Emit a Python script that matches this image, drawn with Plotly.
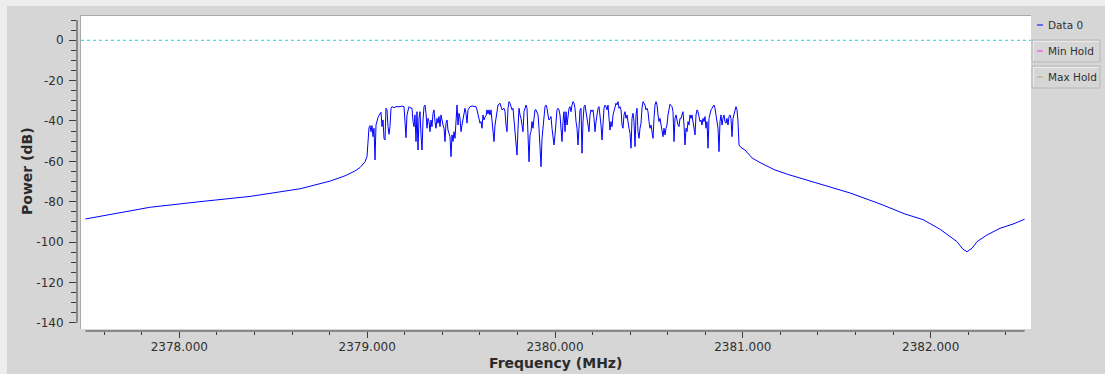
import plotly.graph_objects as go

# ---------------- data ----------------
left_skirt_freq = [2377.500, 2377.580, 2377.684, 2377.843, 2378.110, 2378.297, 2378.377,
                   2378.643, 2378.803, 2378.882, 2378.935, 2378.962, 2378.989]
left_skirt_db = [-88.6, -87.2, -85.4, -82.8, -80.0, -78.3, -77.4,
                 -73.6, -69.8, -67.2, -64.8, -63.1, -60.2]

passband_freq = [
    2378.9992, 2379.0045, 2379.0098, 2379.0152, 2379.0205, 2379.0258, 2379.0311, 2379.0365, 2379.0418, 2379.0471,
    2379.0524, 2379.0578, 2379.0631, 2379.0684, 2379.0737, 2379.0790, 2379.0844, 2379.0897, 2379.0950, 2379.1003,
    2379.1057, 2379.1110, 2379.1163, 2379.1216, 2379.1270, 2379.1323, 2379.1429, 2379.1536, 2379.1642, 2379.1749,
    2379.1855, 2379.1962, 2379.2015, 2379.2068, 2379.2121, 2379.2175, 2379.2228, 2379.2281, 2379.2388, 2379.2441,
    2379.2494, 2379.2547, 2379.2601, 2379.2654, 2379.2707, 2379.2760, 2379.2814, 2379.2867, 2379.2920, 2379.2973,
    2379.3027, 2379.3080, 2379.3133, 2379.3186, 2379.3240, 2379.3293, 2379.3346, 2379.3399, 2379.3452, 2379.3506,
    2379.3559, 2379.3612, 2379.3665, 2379.3719, 2379.3772, 2379.3825, 2379.3878, 2379.3932, 2379.3985, 2379.4038,
    2379.4091, 2379.4145, 2379.4198, 2379.4251, 2379.4304, 2379.4358, 2379.4411, 2379.4464, 2379.4517, 2379.4571,
    2379.4624, 2379.4677, 2379.4730, 2379.4784, 2379.4837, 2379.4890, 2379.4943, 2379.4996, 2379.5050, 2379.5103,
    2379.5156, 2379.5209, 2379.5263, 2379.5316, 2379.5369, 2379.5475, 2379.5582, 2379.5689, 2379.5795, 2379.5848,
    2379.5901, 2379.5955, 2379.6008, 2379.6061, 2379.6114, 2379.6168, 2379.6221, 2379.6274, 2379.6327, 2379.6381,
    2379.6434, 2379.6487, 2379.6540, 2379.6594, 2379.6647, 2379.6700, 2379.6753, 2379.6807, 2379.6860, 2379.6913,
    2379.6966, 2379.7073, 2379.7126, 2379.7179, 2379.7286, 2379.7339, 2379.7392, 2379.7445, 2379.7499, 2379.7552,
    2379.7605, 2379.7712, 2379.7765, 2379.7818, 2379.7871, 2379.7925, 2379.7978, 2379.8031, 2379.8084, 2379.8137,
    2379.8191, 2379.8244, 2379.8297, 2379.8350, 2379.8404, 2379.8457, 2379.8510, 2379.8563, 2379.8617, 2379.8670,
    2379.8723, 2379.8776, 2379.8830, 2379.8883, 2379.8936, 2379.8989, 2379.9043, 2379.9096, 2379.9149, 2379.9202,
    2379.9256, 2379.9309, 2379.9362, 2379.9415, 2379.9468, 2379.9522, 2379.9575, 2379.9628, 2379.9681, 2379.9734,
    2379.9788, 2379.9841, 2379.9894, 2379.9947, 2380.0001, 2380.0054, 2380.0107, 2380.0160, 2380.0214, 2380.0267,
    2380.0320, 2380.0373, 2380.0427, 2380.0480, 2380.0533, 2380.0586, 2380.0640, 2380.0693, 2380.0746, 2380.0799,
    2380.0853, 2380.0906, 2380.0959, 2380.1012, 2380.1066, 2380.1119, 2380.1172, 2380.1225, 2380.1278, 2380.1332,
    2380.1385, 2380.1438, 2380.1491, 2380.1545, 2380.1598, 2380.1651, 2380.1704, 2380.1758, 2380.1811, 2380.1864,
    2380.1917, 2380.1971, 2380.2024, 2380.2077, 2380.2130, 2380.2184, 2380.2237, 2380.2290, 2380.2343, 2380.2396,
    2380.2450, 2380.2503, 2380.2556, 2380.2609, 2380.2663, 2380.2716, 2380.2769, 2380.2822, 2380.2876, 2380.2929,
    2380.2982, 2380.3035, 2380.3089, 2380.3142, 2380.3195, 2380.3248, 2380.3302, 2380.3355, 2380.3408, 2380.3461,
    2380.3515, 2380.3568, 2380.3621, 2380.3674, 2380.3728, 2380.3781, 2380.3834, 2380.3887, 2380.3940, 2380.3993,
    2380.4047, 2380.4100, 2380.4153, 2380.4206, 2380.4260, 2380.4313, 2380.4366, 2380.4419, 2380.4473, 2380.4526,
    2380.4579, 2380.4632, 2380.4686, 2380.4792, 2380.4845, 2380.4899, 2380.4952, 2380.5005, 2380.5058, 2380.5111,
    2380.5165, 2380.5218, 2380.5271, 2380.5324, 2380.5378, 2380.5431, 2380.5484, 2380.5537, 2380.5590, 2380.5644,
    2380.5697, 2380.5750, 2380.5803, 2380.5857, 2380.5910, 2380.5963, 2380.6016, 2380.6070, 2380.6123, 2380.6229,
    2380.6282, 2380.6336, 2380.6389, 2380.6442, 2380.6495, 2380.6549, 2380.6602, 2380.6655, 2380.6708, 2380.6762,
    2380.6815, 2380.6868, 2380.6921, 2380.6975, 2380.7028, 2380.7081, 2380.7134, 2380.7187, 2380.7241, 2380.7294,
    2380.7347, 2380.7400, 2380.7454, 2380.7507, 2380.7560, 2380.7613, 2380.7667, 2380.7720, 2380.7773, 2380.7826,
    2380.7879, 2380.7933, 2380.7986, 2380.8039, 2380.8092, 2380.8146, 2380.8199, 2380.8252, 2380.8305, 2380.8359,
    2380.8412, 2380.8465, 2380.8518, 2380.8572, 2380.8625, 2380.8678, 2380.8731, 2380.8785, 2380.8838, 2380.8891,
    2380.8944, 2380.8998, 2380.9051, 2380.9104, 2380.9157, 2380.9210, 2380.9264, 2380.9317, 2380.9370, 2380.9423,
    2380.9477, 2380.9530, 2380.9583, 2380.9636, 2380.9690, 2380.9743, 2380.9796, 2380.9902, 2381.0115, 2381.0328,
]
passband_db = [
    -57.7, -48.6, -43.3, -42.3, -45.3, -42.3, -47.8, -43.6, -59.3, -42.0,
    -39.5, -38.3, -37.3, -36.2, -35.7, -42.8, -39.5, -48.6, -49.4, -33.7,
    -34.5, -42.8, -46.6, -42.8, -33.7, -32.9, -33.4, -32.9, -33.0, -32.9,
    -32.6, -32.9, -40.3, -48.3, -37.0, -33.7, -32.9, -33.4, -33.7, -40.3,
    -42.8, -37.0, -50.2, -35.4, -54.4, -38.7, -35.4, -46.9, -54.4, -39.5,
    -32.9, -32.1, -36.2, -43.6, -38.7, -40.3, -45.3, -39.5, -42.8, -36.2,
    -34.5, -40.3, -43.6, -38.7, -41.1, -37.8, -42.8, -37.0, -40.3, -42.0,
    -43.6, -50.2, -41.1, -39.5, -44.5, -46.1, -47.8, -57.7, -46.9, -50.2,
    -45.3, -48.6, -37.0, -32.1, -42.0, -36.2, -38.7, -45.3, -42.0, -39.5,
    -37.8, -33.7, -36.2, -41.1, -34.5, -32.9, -32.6, -32.6, -32.9, -34.5,
    -37.0, -39.5, -41.1, -40.3, -43.6, -37.0, -39.5, -38.0, -37.5, -34.5,
    -36.5, -34.5, -37.0, -34.5, -39.5, -42.8, -50.2, -42.0, -37.8, -35.4,
    -32.1, -31.2, -32.9, -34.5, -33.7, -35.4, -42.0, -45.3, -33.7, -30.4,
    -31.2, -34.5, -33.7, -38.7, -45.3, -50.2, -56.9, -43.6, -33.7, -37.0,
    -38.7, -42.0, -45.3, -35.4, -32.9, -32.1, -33.7, -46.9, -60.2, -46.9,
    -45.3, -40.3, -43.6, -38.7, -34.5, -34.5, -35.4, -37.0, -43.6, -51.9,
    -62.7, -48.6, -42.0, -35.4, -32.9, -32.1, -33.7, -37.0, -39.5, -38.7,
    -37.8, -43.6, -48.6, -51.9, -46.9, -38.7, -34.5, -33.7, -34.5, -37.0,
    -43.6, -50.2, -40.3, -35.4, -45.3, -35.4, -42.0, -37.0, -33.7, -32.9,
    -35.4, -32.1, -30.4, -31.2, -33.7, -40.3, -43.6, -51.9, -42.0, -34.5,
    -33.7, -56.0, -40.3, -32.9, -32.1, -35.4, -38.7, -42.8, -45.3, -37.0,
    -34.5, -35.4, -34.5, -38.7, -45.3, -40.3, -35.4, -33.7, -32.9, -37.0,
    -42.0, -49.4, -40.3, -33.7, -32.1, -32.9, -34.5, -32.1, -38.7, -44.5,
    -40.3, -42.8, -37.0, -34.5, -32.1, -31.2, -32.0, -30.4, -33.7, -32.9,
    -34.5, -42.0, -43.6, -37.0, -35.4, -38.7, -37.0, -42.0, -43.6, -46.1,
    -53.5, -38.7, -36.2, -40.3, -52.7, -37.0, -33.7, -45.3, -48.6, -43.6,
    -41.1, -33.7, -30.4, -32.1, -34.5, -33.7, -35.4, -40.3, -43.6, -42.0,
    -45.3, -48.6, -38.7, -32.1, -30.4, -32.1, -37.0, -40.3, -38.7, -42.0,
    -43.6, -47.8, -43.6, -46.9, -43.6, -42.0, -37.0, -32.9, -31.7, -32.9,
    -35.4, -50.2, -38.7, -37.0, -40.3, -42.0, -42.8, -38.7, -38.7, -37.0,
    -35.4, -42.0, -51.9, -43.6, -45.3, -40.3, -42.0, -37.0, -38.7, -37.0,
    -41.1, -45.3, -46.9, -37.0, -34.5, -35.4, -38.7, -40.3, -39.5, -42.0,
    -38.7, -40.3, -37.8, -43.6, -40.3, -53.5, -38.7, -35.4, -34.5, -33.7,
    -32.9, -32.1, -33.7, -37.0, -42.0, -43.6, -55.2, -40.3, -37.0, -42.0,
    -38.7, -37.0, -40.3, -41.1, -38.7, -42.0, -37.8, -37.0, -38.7, -47.8,
    -38.7, -36.2, -33.7, -32.9, -34.5, -40.3, -51.9, -53.2, -54.4, -56.6,
]

right_skirt_freq = [2381.050, 2381.091, 2381.131, 2381.171, 2381.240, 2381.304, 2381.437,
                    2381.571, 2381.730, 2381.863, 2381.959, 2382.050, 2382.140, 2382.172,
                    2382.193, 2382.220, 2382.247, 2382.300, 2382.369, 2382.438, 2382.500]
right_skirt_db = [-58.4, -60.6, -62.6, -64.3, -66.5, -68.3, -71.8,
                  -75.7, -81.1, -86.1, -88.9, -93.7, -99.8, -103.6,
                  -104.8, -103.1, -99.8, -96.5, -93.2, -91.1, -88.7]

x_tick_values = [2378, 2379, 2380, 2381, 2382]
x_tick_labels = ["2378.000", "2379.000", "2380.000", "2381.000", "2382.000"]
y_tick_values = [0, -20, -40, -60, -80, -100, -120, -140]
y_tick_labels = ["0", "-20", "-40", "-60", "-80", "-100", "-120", "-140"]

legend_names = ["Data 0", "Min Hold", "Max Hold"]
legend_colors = ["#0000ff", "#ff2cff", "#b0b070"]

assert len(passband_freq) == len(passband_db)
assert len(left_skirt_freq) == len(left_skirt_db)
assert len(right_skirt_freq) == len(right_skirt_db)

freq = left_skirt_freq + passband_freq + right_skirt_freq
power = left_skirt_db + passband_db + right_skirt_db

# ---------------- layout geometry ----------------
W, H = 1105, 374
L, R, T, B = 77, 1031, 15, 331     # plotting domain in pixels


def px(X):
    return (X - L) / (R - L)


def py(Y):
    return (B - Y) / (B - T)


GRAY = "#d6d6d6"
TEXT = "#303030"
AXC = "#3c3c3c"
FONT = "DejaVu Sans"

fig = go.Figure()
fig.add_trace(go.Scatter(x=freq, y=power, mode="lines",
                         line=dict(color=legend_colors[0], width=1),
                         hoverinfo="skip"))

shapes = []
# light strips at top / left of window
shapes.append(dict(type="rect", xref="paper", yref="paper", x0=px(0), x1=px(W), y0=py(0), y1=py(6),
                   fillcolor="#ededed", line=dict(width=0), layer="below"))
shapes.append(dict(type="rect", xref="paper", yref="paper", x0=px(0), x1=px(7), y0=py(0), y1=py(H),
                   fillcolor="#ededed", line=dict(width=0), layer="below"))
# white canvas
shapes.append(dict(type="rect", xref="paper", yref="paper", x0=px(81), x1=px(1031), y0=py(329), y1=py(15),
                   fillcolor="#ffffff", line=dict(width=0), layer="below"))
shapes.append(dict(type="line", xref="paper", yref="paper", x0=px(80.5), x1=px(80.5), y0=py(329), y1=py(15),
                   line=dict(color="#a9a9a9", width=1), layer="below"))
shapes.append(dict(type="line", xref="paper", yref="paper", x0=px(80.5), x1=px(1031), y0=py(15.5), y1=py(15.5),
                   line=dict(color="#a9a9a9", width=1), layer="below"))
# axis backbones
shapes.append(dict(type="line", xref="paper", yref="y", x0=0, x1=0, y0=-140, y1=10,
                   line=dict(color=AXC, width=1)))
shapes.append(dict(type="line", xref="x", yref="paper", x0=2377.5, x1=2382.5, y0=0, y1=0,
                   line=dict(color=AXC, width=1)))
# dotted 0 dB line
shapes.append(dict(type="line", xref="paper", yref="y", x0=px(81), x1=1, y0=0, y1=0,
                   line=dict(color="#22d0d8", width=1, dash="dot")))

# legend
leg_y = [25, 51, 77]
for i, (name, col) in enumerate(zip(legend_names, legend_colors)):
    yc = leg_y[i]
    if i > 0:
        shapes.append(dict(type="rect", xref="paper", yref="paper", x0=px(1032), x1=px(1100),
                           y0=py(yc + 11), y1=py(yc - 11), fillcolor=GRAY,
                           line=dict(color="#b8b8b8", width=1)))
        shapes.append(dict(type="line", xref="paper", yref="paper", x0=px(1033.5), x1=px(1098.5),
                           y0=py(yc - 9.5), y1=py(yc - 9.5), line=dict(color="#ececec", width=1)))
        shapes.append(dict(type="line", xref="paper", yref="paper", x0=px(1033.5), x1=px(1033.5),
                           y0=py(yc + 9.5), y1=py(yc - 9.5), line=dict(color="#ececec", width=1)))
    shapes.append(dict(type="line", xref="paper", yref="paper", x0=px(1037), x1=px(1043),
                       y0=py(yc), y1=py(yc), line=dict(color=col, width=1)))

annotations = []
for i, name in enumerate(legend_names):
    annotations.append(dict(text=name, xref="paper", yref="paper", x=px(1046), y=py(leg_y[i]),
                            xanchor="left", yanchor="middle", showarrow=False,
                            font=dict(family=FONT, size=10.5, color=TEXT)))
annotations.append(dict(text="<b>Power (dB)</b>", xref="paper", yref="paper", x=px(27), y=py(171),
                        xanchor="center", yanchor="middle", textangle=-90, showarrow=False,
                        font=dict(family=FONT, size=14, color="#2b2b2b")))
annotations.append(dict(text="<b>Frequency (MHz)</b>", xref="paper", yref="paper", x=px(555), y=py(362.5),
                        xanchor="center", yanchor="middle", showarrow=False,
                        font=dict(family=FONT, size=14, color="#2b2b2b")))

fig.update_layout(
    width=W, height=H,
    margin=dict(l=L, r=W - R, t=T, b=H - B, pad=0),
    paper_bgcolor=GRAY, plot_bgcolor=GRAY,
    showlegend=False,
    shapes=shapes, annotations=annotations,
    xaxis=dict(range=[2377.4554, 2382.5340], showgrid=False, zeroline=False, showline=False,
               ticks="outside", ticklen=6, tickwidth=1, tickcolor=AXC,
               tickmode="array", tickvals=x_tick_values, ticktext=x_tick_labels,
               tickfont=dict(family=FONT, size=12, color=TEXT),
               ticklabelstandoff=-1,
               minor=dict(ticks="outside", ticklen=3, tickwidth=1, tickcolor=AXC,
                          dtick=0.2, tick0=2378, showgrid=False)),
    yaxis=dict(range=[-144.12, 12.54], showgrid=False, zeroline=False, showline=False,
               ticks="outside", ticklen=7, tickwidth=1, tickcolor=AXC,
               tickmode="array", tickvals=y_tick_values, ticktext=y_tick_labels,
               tickfont=dict(family=FONT, size=12, color=TEXT),
               ticklabelstandoff=3,
               minor=dict(ticks="outside", ticklen=5, tickwidth=1, tickcolor=AXC,
                          dtick=5, tick0=0, showgrid=False)),
)

fig.write_html("out.html")
